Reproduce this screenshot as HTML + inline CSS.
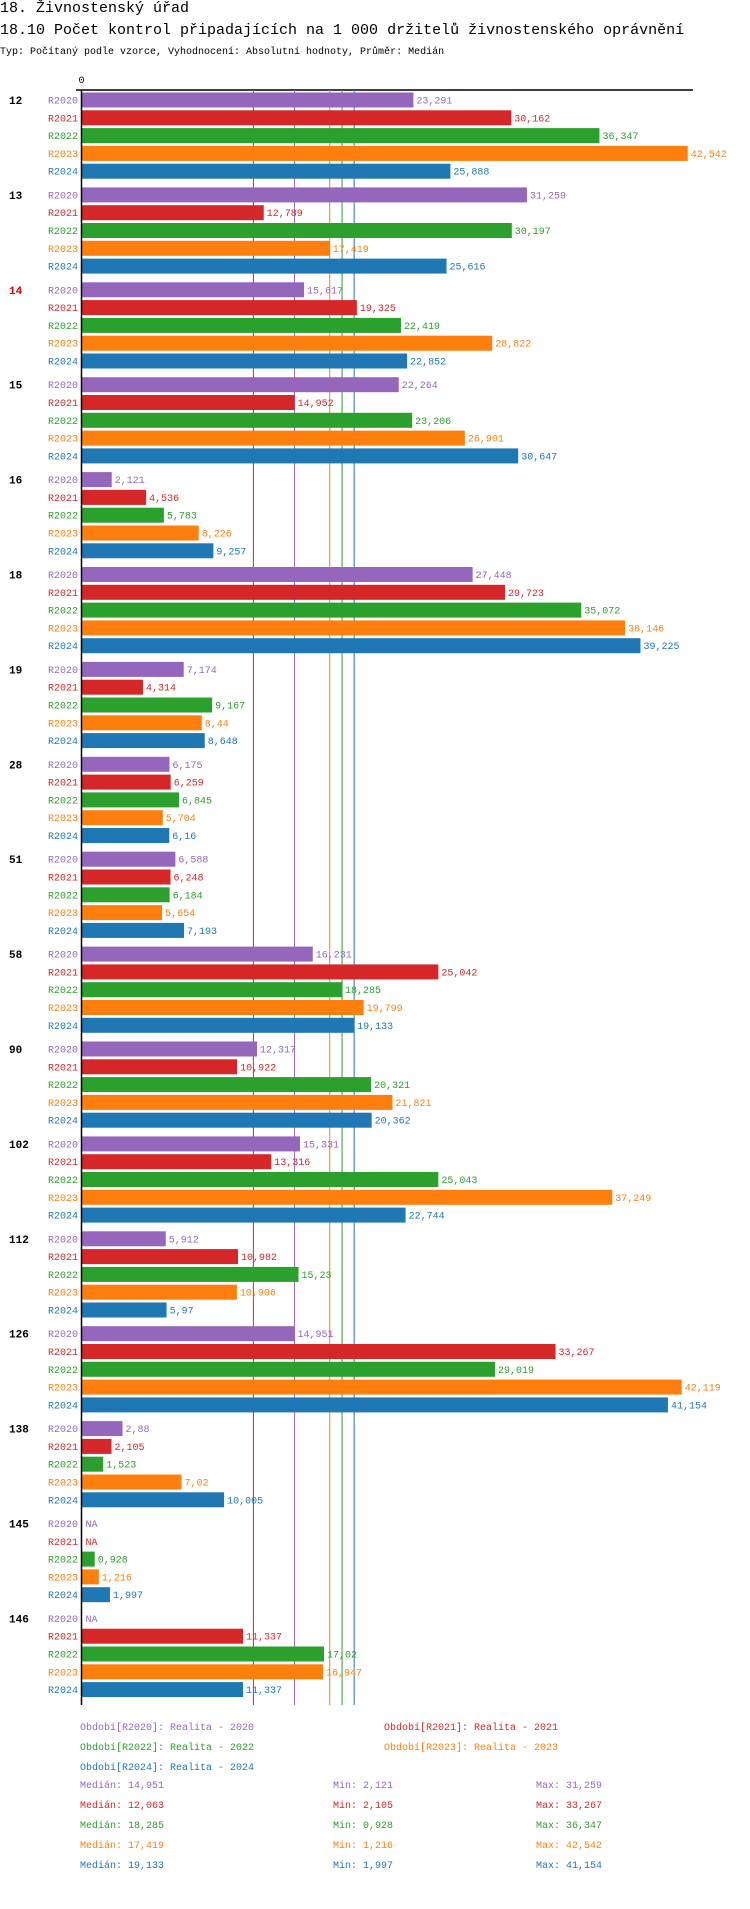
<!DOCTYPE html>
<html><head><meta charset="utf-8"><style>
body{margin:0;background:#fff;width:750px;height:1904px;overflow:hidden;font-family:"Liberation Mono",monospace}
svg text{font-family:"Liberation Mono",monospace}
</style></head><body>
<svg id="c" width="750" height="1904" xmlns="http://www.w3.org/2000/svg">
<text x="0" y="12" font-size="15" fill="#000">18. Živnostenský úřad</text>
<text x="0" y="34" font-size="15" fill="#000">18.10 Počet kontrol připadajících na 1 000 držitelů živnostenského oprávnění</text>
<text x="0" y="54" font-size="10" fill="#000">Typ: Počítaný podle vzorce, Vyhodnocení: Absolutní hodnoty, Průměr: Medián</text>
</svg>
<script>
const categories=["12","13","14","15","16","18","19","28","51","58","90","102","112","126","138","145","146"];
const seriesNames=["R2020","R2021","R2022","R2023","R2024"];
const colors=["#9467bd","#d62728","#2ca02c","#ff7f0e","#1f77b4"];
const r2020=[23.291,31.259,15.617,22.264,2.121,27.448,7.174,6.175,6.588,16.231,12.317,15.331,5.912,14.951,2.88,null,null];
const r2021=[30.162,12.789,19.325,14.952,4.536,29.723,4.314,6.259,6.248,25.042,10.922,13.316,10.982,33.267,2.105,null,11.337];
const r2022=[36.347,30.197,22.419,23.206,5.783,35.072,9.167,6.845,6.184,18.285,20.321,25.043,15.23,29.019,1.523,0.928,17.02];
const r2023=[42.542,17.419,28.822,26.901,8.226,38.146,8.44,5.704,5.654,19.799,21.821,37.249,10.906,42.119,7.02,1.216,16.947];
const r2024=[25.888,25.616,22.852,30.647,9.257,39.225,8.648,6.16,7.193,19.133,20.362,22.744,5.97,41.154,10.005,1.997,11.337];
const medians=[14.951,12.063,18.285,17.419,19.133];
const mins=[2.121,2.105,0.928,1.216,1.997];
const maxs=[31.259,33.267,36.347,42.542,41.154];
const legendLabels=["Období[R2020]: Realita - 2020","Období[R2021]: Realita - 2021","Období[R2022]: Realita - 2022","Období[R2023]: Realita - 2023","Období[R2024]: Realita - 2024"];
const series=[r2020,r2021,r2022,r2023,r2024];
const svg=document.getElementById('c');
const NS="http://www.w3.org/2000/svg";
const X0=81.5,SC=14.25;
const xs=v=>X0+v*SC;
const yRow=(g,r)=>100+g*94.9+r*17.8;
const fmt=v=>String(v).replace('.',',');
function el(t,a,txt){const e=document.createElementNS(NS,t);for(const k in a)e.setAttribute(k,a[k]);if(txt!=null)e.textContent=txt;svg.appendChild(e);return e;}
let t=el('text',{x:X0-3,y:83,'font-size':10,fill:'#000'},'0');


let ax=el('line',{x1:76,y1:90,x2:693,y2:90,stroke:'#000','stroke-width':1.5});


const yEnd=1705;
medians.forEach((m,i)=>{
 const l=el('line',{x1:xs(m),y1:90,x2:xs(m),y2:yEnd,stroke:colors[i],'stroke-width':1});
 
 
});
categories.forEach((c,g)=>{
 const ct=el('text',{x:9,y:yRow(g,0)+4,'font-size':11,'font-weight':'bold',fill:c==="14"?"#e00":"#000"},c);
 
 
 series.forEach((s,r)=>{
  const y=yRow(g,r),v=s[g];
  const st=el('text',{x:78,y:y+3.5,'font-size':10,fill:colors[r],'text-anchor':'end'},seriesNames[r]);
  
  
  let endX=X0+1;
  if(v!=null){
   const b=el('rect',{x:X0,y:y-7.5,width:v*SC,height:15,fill:colors[r]});
   
   
   endX=xs(v);
  }
  const vt=el('text',{x:endX+3,y:y+3.5,'font-size':10,fill:colors[r]},v==null?'NA':fmt(v));
  
  
 });
});
let zl=el('line',{x1:X0,y1:90,x2:X0,y2:yEnd,stroke:'#000','stroke-width':1.5});


legendLabels.forEach((l,i)=>{
 const lx=i%2===0?80:384, ly=1730+Math.floor(i/2)*20;
 const e=el('text',{x:lx,y:ly,'font-size':10,fill:colors[i]},l);
 
 
});
medians.forEach((m,i)=>{
 const ly=1788+i*20;
 const a=el('text',{x:80,y:ly,'font-size':10,fill:colors[i]},'Medián: '+fmt(m));
 
 
 const b=el('text',{x:333,y:ly,'font-size':10,fill:colors[i]},'Min: '+fmt(mins[i]));
 
 
 const d=el('text',{x:536,y:ly,'font-size':10,fill:colors[i]},'Max: '+fmt(maxs[i]));
 
 
});
</script>
</body></html>
